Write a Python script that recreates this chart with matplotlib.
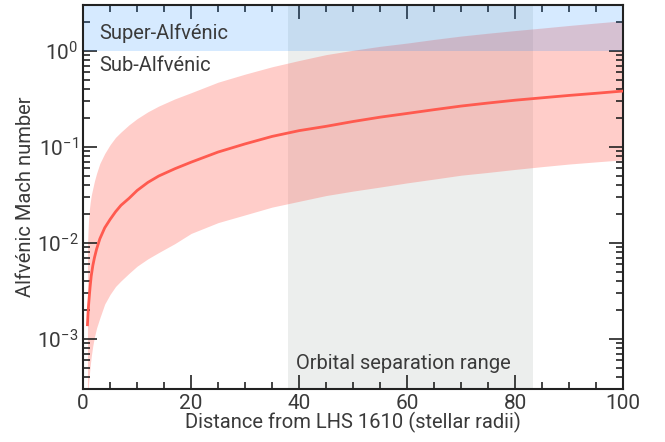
import matplotlib
matplotlib.use("Agg")
import matplotlib.pyplot as plt
from matplotlib.ticker import LogLocator, MultipleLocator

plt.rcParams['font.family'] = ['Roboto', 'DejaVu Sans']
plt.rcParams['mathtext.fontset'] = 'custom'
plt.rcParams['mathtext.rm'] = 'Roboto'
plt.rcParams['mathtext.it'] = 'Roboto'

# distance from star (stellar radii)
distance = [0.8, 0.9, 1.0, 1.15, 1.3, 1.5, 1.8, 2.1, 2.5, 3.1, 4, 5, 6, 7, 8.5, 10,
            12, 14, 17, 20, 25, 30, 35, 40, 45, 50, 55, 60, 65, 70, 75, 80, 85,
            90, 95, 100]
# Alfvenic Mach number: median curve
mach_mid = [1.4e-3, 1.8e-3, 2.2e-3, 2.8e-3, 3.5e-3, 4.5e-3, 5.8e-3, 7.0e-3, 8.6e-3,
            0.011, 0.0143, 0.0175, 0.021, 0.0245, 0.029, 0.035, 0.0425, 0.0495,
            0.059, 0.069, 0.088, 0.107, 0.128, 0.147, 0.163, 0.183, 0.203, 0.222,
            0.243, 0.265, 0.285, 0.305, 0.323, 0.342, 0.36, 0.38]
# upper and lower edge of the uncertainty band
mach_hi = [0.009, 0.013, 0.017, 0.022, 0.026, 0.031, 0.037, 0.044, 0.053, 0.067,
           0.085, 0.105, 0.125, 0.142, 0.169, 0.196, 0.231, 0.265, 0.315, 0.365,
           0.47, 0.57, 0.68, 0.79, 0.91, 1.01, 1.11, 1.2, 1.31, 1.42, 1.52, 1.62,
           1.72, 1.83, 1.94, 2.05]
mach_lo = [2.2e-4, 2.8e-4, 3.4e-4, 4.2e-4, 5.2e-4, 6.5e-4, 8.5e-4, 1.05e-3, 1.3e-3,
           1.65e-3, 2.3e-3, 2.9e-3, 3.5e-3, 4.0e-3, 4.8e-3, 5.7e-3, 6.8e-3, 7.9e-3,
           9.8e-3, 0.0125, 0.0162, 0.0195, 0.0235, 0.027, 0.031, 0.0345, 0.038,
           0.042, 0.046, 0.0505, 0.054, 0.058, 0.062, 0.066, 0.0695, 0.073]

orbit_range = (38, 83.3)
text_color = '#3a3a3a'

fig = plt.figure(figsize=(6.65, 4.42), dpi=100)
ax = fig.add_axes([0.125, 0.12, 0.812, 0.869])

ax.axvspan(orbit_range[0], orbit_range[1], color='#a0aaa5', alpha=0.2, lw=0, zorder=0)
ax.fill_between(distance, mach_lo, mach_hi, color='#ff5a4f', alpha=0.3, lw=0, zorder=1)
ax.plot(distance, mach_mid, color='#ff5a4f', lw=2, zorder=3)
ax.axhspan(1, 10, color='#1e8cff', alpha=0.18, lw=0, zorder=2)

ax.set_yscale('log')
ax.set_xlim(0, 100)
ax.set_ylim(3e-4, 3)

txt = dict(fontsize=14.5, color=text_color, va='center', zorder=5)
ax.text(3, 1.52, 'Super-Alfvénic', **txt)
ax.text(3, 0.7, 'Sub-Alfvénic', **txt)
ax.text(39.5, 5.5e-4, 'Orbital separation range', **txt)

ax.xaxis.set_major_locator(MultipleLocator(20))
ax.xaxis.set_minor_locator(MultipleLocator(5))
ax.yaxis.set_major_locator(LogLocator(base=10, numticks=10))
ax.yaxis.set_minor_locator(LogLocator(base=10, subs=range(2, 10), numticks=10))

ax.tick_params(which='both', direction='in', top=True, right=True, width=1.2, color='#222222')
ax.tick_params(which='major', length=10, labelsize=15, labelcolor=text_color)
ax.tick_params(which='minor', length=5)
for s in ax.spines.values():
    s.set_linewidth(1.5)
    s.set_color('#222222')

ax.set_xlabel('Distance from LHS 1610 (stellar radii)', fontsize=14.5, color=text_color, labelpad=-1)
ax.set_ylabel('Alfvénic Mach number', fontsize=14.5, color=text_color, labelpad=1)

fig.savefig('out.png', dpi=100)
